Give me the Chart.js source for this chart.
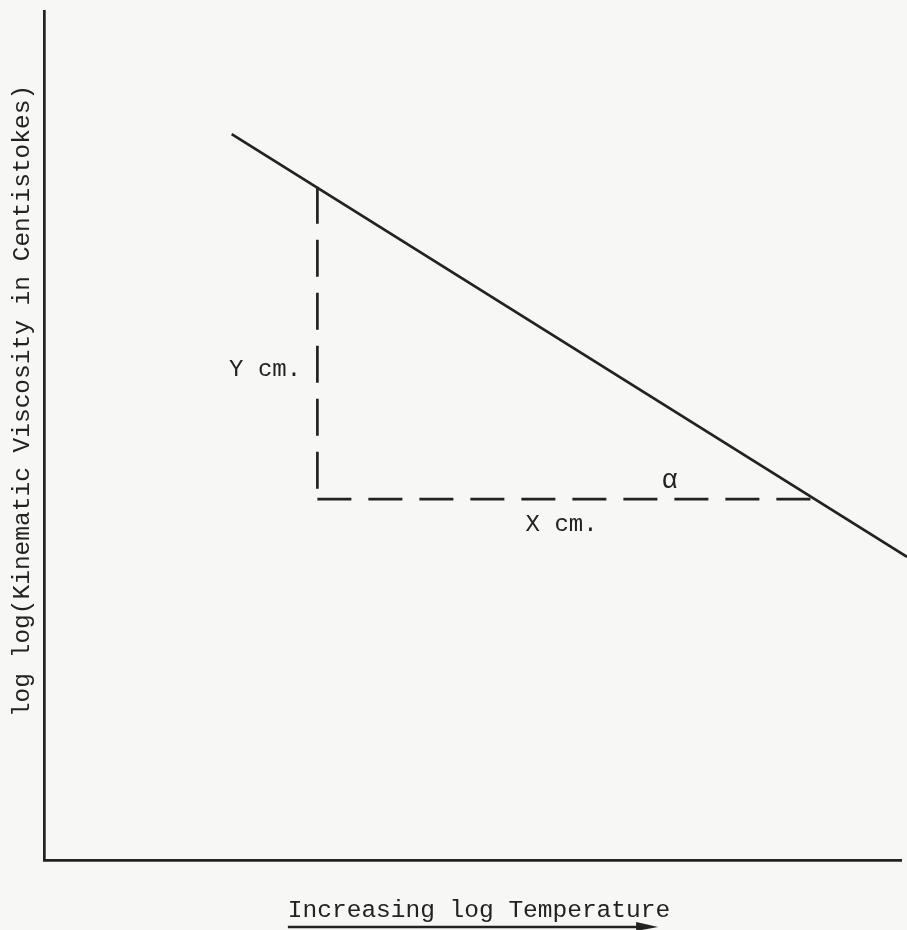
<!DOCTYPE html>
<html>
<head>
<meta charset="utf-8">
<script src="https://cdn.jsdelivr.net/npm/chart.js@4.4.1/dist/chart.umd.min.js"></script>
<style>
  html, body { margin: 0; padding: 0; background: #f7f7f5; }
  #wrap { width: 907px; height: 930px; position: relative; }
</style>
</head>
<body>
<div id="wrap"><canvas id="c" width="907" height="930"></canvas></div>
<script>
// Data (arbitrary relative units)
const lineX = [21.9, 100.7];
const lineY = [85.5, 35.7];
const dashVertX = [31.9, 31.9];
const dashVertY = [79.3, 42.5];
const dashHorzX = [31.9, 89.7];
const dashHorzY = [42.5, 42.5];
const noteText = ['Y cm.', 'X cm.', 'α'];
const noteX = [25.8, 60.4, 73.0];
const noteY = [57.7, 39.5, 44.7];
const xTitle = 'Increasing log Temperature';
const yTitle = 'log log(Kinematic Viscosity in Centistokes)';

const ink = '#222222';
const font = '"Liberation Mono", "DejaVu Sans Mono", monospace';

function pts(xs, ys) { return xs.map((x, i) => ({ x: x, y: ys[i] })); }

const annotate = {
  id: 'annotate',
  afterDraw(chart) {
    const ctx = chart.ctx;
    const xs = chart.scales.x, ys = chart.scales.y;
    ctx.save();
    ctx.fillStyle = ink;
    ctx.textAlign = 'center';
    ctx.textBaseline = 'middle';
    noteText.forEach((t, i) => {
      ctx.font = (t === 'α' ? '27px ' : '24px ') + font;
      ctx.fillText(t, xs.getPixelForValue(noteX[i]), ys.getPixelForValue(noteY[i]));
    });
    // x title + arrow
    ctx.font = '24.5px ' + font;
    const cx = 479, ty = 911;
    ctx.fillText(xTitle, cx, ty);
    const w = ctx.measureText(xTitle).width;
    const x0 = cx - w / 2, x1 = x0 + w - 12;
    ctx.strokeStyle = ink;
    ctx.lineWidth = 2.5;
    ctx.beginPath();
    ctx.moveTo(x0, 927);
    ctx.lineTo(x1 - 16, 927);
    ctx.stroke();
    ctx.beginPath();
    ctx.moveTo(x1 - 22, 922);
    ctx.lineTo(x1, 927);
    ctx.lineTo(x1 - 22, 931);
    ctx.closePath();
    ctx.fill();
    // y title
    ctx.translate(23, 401);
    ctx.rotate(-Math.PI / 2);
    ctx.font = '24.5px ' + font;
    ctx.fillText(yTitle, 0, 0);
    ctx.restore();
  }
};

new Chart(document.getElementById('c'), {
  type: 'scatter',
  data: {
    datasets: [
      { data: pts(lineX, lineY), showLine: true, borderColor: ink, borderWidth: 2.7,
        pointRadius: 0, clip: false, fill: false },
      { data: pts(dashVertX, dashVertY), showLine: true, borderColor: ink, borderWidth: 2.7,
        borderDash: [37, 16], pointRadius: 0, fill: false },
      { data: pts(dashHorzX, dashHorzY), showLine: true, borderColor: ink, borderWidth: 2.7,
        borderDash: [34, 17], pointRadius: 0, fill: false }
    ]
  },
  options: {
    responsive: false,
    animation: false,
    events: [],
    layout: { padding: { left: 44, top: 11, right: 6, bottom: 70 } },
    plugins: { legend: { display: false }, tooltip: { enabled: false } },
    scales: {
      x: { type: 'linear', min: 0, max: 100,
           ticks: { display: false }, grid: { display: false, drawTicks: false },
           border: { display: true, color: ink, width: 2.7 } },
      y: { type: 'linear', min: 0, max: 100,
           ticks: { display: false }, grid: { display: false, drawTicks: false },
           border: { display: true, color: ink, width: 2.7 } }
    }
  },
  plugins: [annotate]
});
</script>
</body>
</html>
